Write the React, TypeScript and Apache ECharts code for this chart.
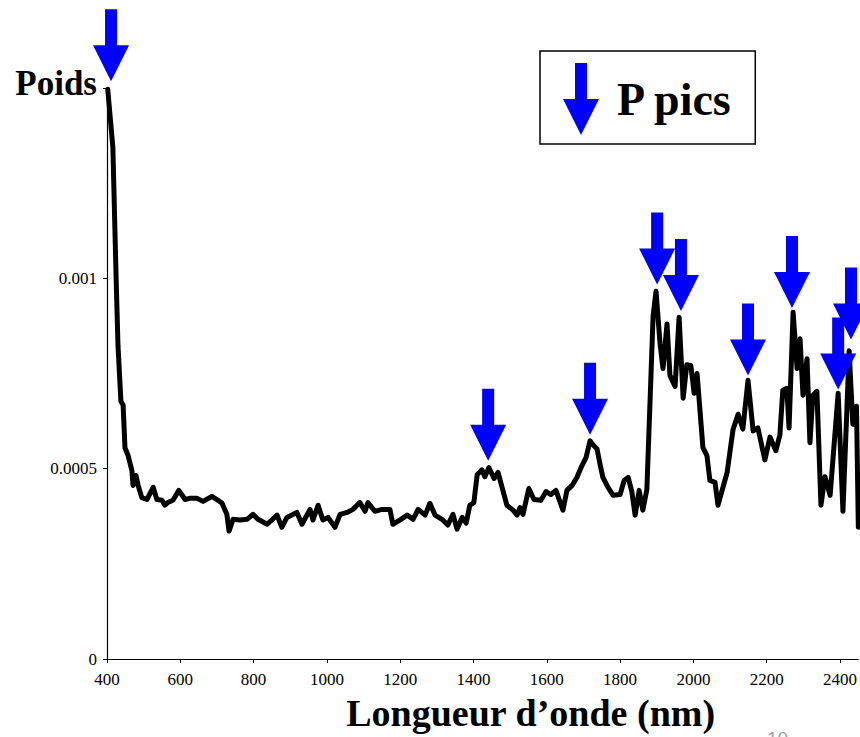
import React, { useEffect, useRef } from "react";
import * as echarts from "echarts";

// Wavelength (nm)
const wavelength = [
  402, 416, 425, 430, 438, 444, 449, 457, 468, 471,
  479, 485, 495, 509, 526, 536, 550, 558, 566, 580,
  596, 613, 626, 646, 662, 686, 703, 714, 727, 733,
  744, 763, 782, 798, 812, 837, 864, 877, 891, 918,
  932, 954, 962, 976, 989, 1003, 1022, 1036, 1055, 1071,
  1090, 1104, 1112, 1131, 1150, 1172, 1180, 1199, 1219, 1235,
  1249, 1268, 1281, 1295, 1314, 1330, 1344, 1355, 1369, 1380,
  1390, 1401, 1410, 1423, 1431, 1442, 1456, 1467, 1478, 1491,
  1508, 1519, 1527, 1535, 1551, 1565, 1584, 1598, 1611, 1625,
  1644, 1655, 1669, 1682, 1696, 1707, 1718, 1726, 1737, 1745,
  1753, 1767, 1781, 1800, 1811, 1822, 1832, 1841, 1852, 1862,
  1873, 1882, 1890, 1898, 1909, 1917, 1928, 1936, 1950, 1961,
  1972, 1982, 1993, 2002, 2010, 2026, 2037, 2045, 2059, 2067,
  2092, 2108, 2122, 2135, 2149, 2163, 2176, 2195, 2209, 2225,
  2236, 2244, 2255, 2261, 2272, 2283, 2291, 2299, 2310, 2318,
  2326, 2337, 2348, 2359, 2373, 2395, 2408, 2425, 2435, 2445,
  2450,
];

// Weight (Poids)
const weight = [
  0.001497, 0.001344, 0.000997, 0.000823, 0.000677, 0.000667, 0.000555, 0.000536, 0.000495, 0.000456,
  0.000482, 0.000456, 0.000424, 0.000419, 0.000451, 0.000419, 0.000417, 0.000404, 0.000411, 0.000417,
  0.000443, 0.000419, 0.000422, 0.000422, 0.000414, 0.000427, 0.000417, 0.000409, 0.00038, 0.000336,
  0.000367, 0.000365, 0.000367, 0.00038, 0.000367, 0.000354, 0.000378, 0.000346, 0.000372, 0.000385,
  0.000354, 0.000393, 0.000365, 0.000404, 0.000365, 0.000372, 0.000346, 0.00038, 0.000385, 0.000393,
  0.000411, 0.000388, 0.000411, 0.000388, 0.000393, 0.000393, 0.000354, 0.000365, 0.000378, 0.000367,
  0.000393, 0.000378, 0.000409, 0.000378, 0.000367, 0.000352, 0.00038, 0.000341, 0.000372, 0.000357,
  0.000404, 0.000411, 0.000484, 0.000497, 0.000479, 0.000503, 0.000474, 0.00049, 0.000451, 0.000404,
  0.000391, 0.000378, 0.000398, 0.00038, 0.000448, 0.000419, 0.000417, 0.00044, 0.000432, 0.000443,
  0.000391, 0.000443, 0.000456, 0.000477, 0.000508, 0.000529, 0.000573, 0.000563, 0.000552, 0.000513,
  0.000477, 0.000451, 0.00043, 0.000432, 0.000469, 0.000477, 0.00044, 0.000378, 0.000443, 0.000391,
  0.000445, 0.000685, 0.000901, 0.000966, 0.000828, 0.000763, 0.00088, 0.000745, 0.000716, 0.000898,
  0.000685, 0.000773, 0.000771, 0.000698, 0.00075, 0.000555, 0.000534, 0.000469, 0.000464, 0.000404,
  0.00049, 0.000602, 0.000643, 0.000604, 0.000732, 0.000599, 0.000607, 0.000523, 0.000583, 0.000547,
  0.000589, 0.000706, 0.000711, 0.000607, 0.000911, 0.000763, 0.000841, 0.000693, 0.000789, 0.000568,
  0.000693, 0.000703, 0.000404, 0.000479, 0.00043, 0.000698, 0.000388, 0.00081, 0.000617, 0.000664,
  0.000346,
];

// Peak arrows (tip position)
const arrowNm = [411, 1440, 1718, 1901, 1966, 2149, 2269, 2395, 2430];
const arrowTip = [0.001518, 0.000521, 0.000589, 0.000984, 0.000914, 0.000745, 0.000922, 0.000708, 0.000839];

const yTickValues = [0, 0.0005, 0.001, 0.0015];
const yTickLabels = ["0", "0.0005", "0.001", "Poids"];

const xTitle = "Longueur d\u2019onde (nm)";
const legendName = "P pics";
const slideNumber = "10";

const ARROW = "path://M12,0 L24,0 L24,36 L36,36 L18,72 L0,36 L12,36 Z";
const SERIF = "'Liberation Serif', 'Times New Roman', serif";

export default function App() {
  const ref = useRef<HTMLDivElement>(null);
  useEffect(() => {
    if (!ref.current) return;
    const chart = echarts.init(ref.current, undefined, { renderer: "svg" });
    const lineData = wavelength.map((w, i) => [w, weight[i]]);
    const arrowData = arrowNm.map((w, i) => [w, arrowTip[i]]);
    chart.setOption({
      animation: false,
      backgroundColor: "#ffffff",
      grid: { left: 107, right: 1, top: 88, bottom: 74, containLabel: false },
      legend: {
        left: 540,
        top: 51,
        padding: [12, 22, 9, 23],
        borderColor: "#000",
        borderWidth: 1.5,
        backgroundColor: "#fff",
        itemWidth: 36,
        itemHeight: 72,
        data: [{ name: legendName, icon: ARROW }],
        textStyle: {
          fontFamily: SERIF,
          fontWeight: "bold",
          fontSize: 46,
          color: "#000",
          padding: [0, 0, 0, 13],
        },
      },
      xAxis: {
        type: "value",
        min: 400,
        max: 2450,
        interval: 200,
        splitLine: { show: false },
        axisLine: { lineStyle: { color: "#000", width: 1.2 } },
        axisTick: { show: true, length: 4, lineStyle: { color: "#000" } },
        axisLabel: {
          fontFamily: SERIF,
          fontSize: 17,
          color: "#000",
          margin: 12,
          formatter: (v: number) => String(v),
        },
        name: xTitle,
        nameLocation: "middle",
        nameGap: 35,
        nameMoveOverlap: false,
        nameTextStyle: {
          fontFamily: SERIF,
          fontWeight: "bold",
          fontSize: 38,
          color: "#000",
          padding: [0, 0, 0, 96],
        },
      },
      yAxis: {
        type: "value",
        min: 0,
        max: 0.0015,
        interval: 0.0005,
        splitLine: { show: false },
        axisLine: { show: true, lineStyle: { color: "#000", width: 1.2 } },
        axisTick: { show: true, length: 4, lineStyle: { color: "#000" } },
        axisLabel: {
          fontFamily: SERIF,
          fontSize: 17,
          color: "#000",
          margin: 10,
          formatter: (v: number) => {
            let idx = 0;
            let best = Infinity;
            yTickValues.forEach((t, i) => {
              const d = Math.abs(t - v);
              if (d < best) {
                best = d;
                idx = i;
              }
            });
            return idx === yTickLabels.length - 1 ? `{p|${yTickLabels[idx]}}` : yTickLabels[idx];
          },
          rich: {
            p: {
              fontFamily: SERIF,
              fontWeight: "bold",
              fontSize: 35,
              color: "#000",
              padding: [0, 0, 10, 0],
            },
          },
        },
      },
      graphic: [
        {
          type: "text",
          left: 767,
          top: 729,
          style: { text: slideNumber, fontFamily: "'Liberation Sans', Arial, sans-serif", fontSize: 19, fill: "#a0a0a0" },
        },
      ],
      series: [
        {
          type: "line",
          name: "Poids",
          data: lineData,
          showSymbol: false,
          symbol: "none",
          lineStyle: { color: "#000", width: 5, join: "round", cap: "round" },
          clip: true,
          z: 2,
        },
        {
          type: "scatter",
          name: legendName,
          data: arrowData,
          symbol: ARROW,
          symbolSize: [36, 72],
          symbolOffset: [0, "-50%"],
          itemStyle: { color: "#0000ff", opacity: 1 },
          clip: false,
          z: 3,
        },
      ],
    });
    return () => chart.dispose();
  }, []);
  return (
    <div
      ref={ref}
      style={{ position: "fixed", left: 0, top: 0, width: 860, height: 737, background: "#fff" }}
    />
  );
}
